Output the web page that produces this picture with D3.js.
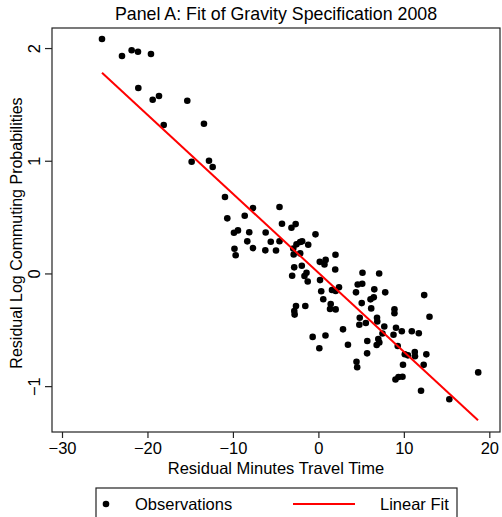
<!DOCTYPE html>
<html>
<head>
<meta charset="utf-8">
<script src="https://cdn.jsdelivr.net/npm/d3@7"></script>
<style>
  body { margin: 0; background: #fff; }
  text { font-family: "Liberation Sans", Arial, sans-serif; fill: #000; }
</style>
</head>
<body>
<svg id="chart"></svg>
<script>
// residual travel time (minutes) for each observation
const obsX = [
  -25.32, -22.98, -21.85, -21.11, -19.59, -21.07, -19.39, -18.65, -15.34, -18.10,
  -13.39, -14.83, -12.80, -12.37, -10.93, -10.66, -8.62, -7.65, -4.55, -4.26,
  -3.15, -2.66, -0.34, -9.88, -9.41, -8.09, -6.17, -8.32, -5.57, -4.55,
  -9.82, -9.68, -7.65, -6.21, -4.96, -2.56, -2.13, -1.90, -1.19, -2.94,
  -2.89, -2.13, -2.83, -1.94, 0.16, 0.85, 0.71, 2.00, 1.97, -3.07,
  -1.63, -1.39, -1.25, 0.19, 0.33, 0.57, 1.44, 1.36, 2.02, -2.62,
  -1.53, -2.82, -2.78, -0.67, 0.83, 0.11, 1.59, 2.02, 2.41, 4.60,
  5.13, 4.40, 6.54, 7.82, 12.38, 5.16, 7.11, 5.07, 6.10, 6.48,
  6.18, 8.90, 8.90, 13.00, 4.84, 5.55, 4.79, 6.86, 6.89, 7.71,
  9.08, 9.76, 10.93, 11.75, 2.88, 7.50, 8.79, 3.46, 5.72, 7.01,
  7.13, 6.82, 9.28, 5.70, 4.46, 4.54, 10.11, 10.48, 11.28, 11.30,
  12.63, 9.90, 12.32, 9.02, 9.37, 9.84, 18.70, 12.01, 15.32
]
// residual log commuting probability for each observation
const obsY = [
  2.080, 1.929, 1.980, 1.967, 1.947, 1.645, 1.541, 1.574, 1.532, 1.317,
  1.328, 0.991, 1.000, 0.944, 0.678, 0.489, 0.512, 0.580, 0.589, 0.441,
  0.405, 0.438, 0.347, 0.361, 0.382, 0.365, 0.363, 0.285, 0.281, 0.286,
  0.219, 0.161, 0.225, 0.205, 0.204, 0.258, 0.279, 0.285, 0.255, 0.221,
  0.168, 0.178, 0.054, 0.068, 0.103, 0.120, 0.079, 0.166, 0.035, -0.020,
  -0.023, 0.006, -0.072, -0.059, -0.158, -0.229, -0.272, -0.316, -0.319, -0.289,
  -0.289, -0.334, -0.365, -0.563, -0.551, -0.664, -0.147, -0.156, -0.122, -0.098,
  -0.091, -0.168, -0.141, -0.168, -0.192, 0.006, -0.001, -0.263, -0.230, -0.212,
  -0.310, -0.318, -0.353, -0.384, -0.393, -0.440, -0.455, -0.394, -0.427, -0.471,
  -0.482, -0.513, -0.513, -0.531, -0.496, -0.533, -0.544, -0.633, -0.600, -0.582,
  -0.613, -0.635, -0.644, -0.709, -0.783, -0.832, -0.717, -0.727, -0.697, -0.735,
  -0.718, -0.810, -0.811, -0.941, -0.919, -0.917, -0.878, -1.041, -1.117
]
// fitted line end points
const fitX = [-25.32, 18.68]
const fitY = [1.781, -1.303]

const xTicks = [-30, -20, -10, 0, 10, 20]
const yTicks = [-1, 0, 1, 2]

const titleText = 'Panel A: Fit of Gravity Specification 2008'
const xTitle = 'Residual Minutes Travel Time'
const yTitle = 'Residual Log Commuting Probabilities'
const legendLabels = ['Observations', 'Linear Fit']

const width = 502
const height = 517
const frame = {left: 52, top: 28, right: 500, bottom: 432}

const svg = d3.select('#chart')
    .attr('width', width)
    .attr('height', height)

const x = d3.scaleLinear().domain([-31.17, 21.25]).range([frame.left, frame.right])
const y = d3.scaleLinear().domain([2.178, -1.407]).range([frame.top, frame.bottom])

// title
svg.append('text')
    .attr('x', 276)
    .attr('y', 20)
    .attr('text-anchor', 'middle')
    .style('font-size', '17.8px')
    .text(titleText)

// box round the plot
svg.append('rect')
    .attr('x', frame.left)
    .attr('y', frame.top)
    .attr('width', frame.right - frame.left)
    .attr('height', frame.bottom - frame.top)
    .attr('fill', 'none')
    .attr('stroke', '#222')
    .attr('stroke-width', 1.2)

// x axis
const xAxis = svg.append('g')
    .attr('transform', `translate(0,${frame.bottom})`)
    .call(d3.axisBottom(x).tickValues(xTicks).tickSize(6).tickPadding(4).tickSizeOuter(0))
xAxis.select('.domain').remove()
xAxis.selectAll('line').attr('stroke', '#222').attr('stroke-width', 1.2)
xAxis.selectAll('text').style('font-size', '16.5px').attr('fill', '#000')

// y axis, labels turned like in R
const yAxis = svg.append('g')
    .attr('transform', `translate(${frame.left},0)`)
    .call(d3.axisLeft(y).tickValues(yTicks).tickSize(7).tickFormat(d3.format('d')))
yAxis.select('.domain').remove()
yAxis.selectAll('line').attr('stroke', '#222').attr('stroke-width', 1.2)
yAxis.selectAll('text')
    .style('font-size', '16.5px')
    .attr('fill', '#000')
    .attr('x', null)
    .attr('text-anchor', 'middle')
    .attr('transform', 'translate(-18,0) rotate(-90)')
    .attr('y', 0)
    .attr('dy', '0.35em')

// axis titles
svg.append('text')
    .attr('x', 276)
    .attr('y', 474)
    .attr('text-anchor', 'middle')
    .style('font-size', '16.5px')
    .text(xTitle)

svg.append('text')
    .attr('transform', `translate(22,${(frame.top + frame.bottom) / 2 + 3}) rotate(-90)`)
    .attr('text-anchor', 'middle')
    .style('font-size', '16px')
    .text(yTitle)

// points
const points = obsX.map((v, i) => ({x: v, y: obsY[i]}))
svg.append('g')
    .selectAll('circle')
    .data(points)
    .join('circle')
    .attr('cx', d => x(d.x))
    .attr('cy', d => y(d.y))
    .attr('r', 3.3)
    .attr('fill', '#000')

// fit line
const fitPts = fitX.map((v, i) => [v, fitY[i]])
svg.append('path')
    .attr('d', d3.line().x(d => x(d[0])).y(d => y(d[1]))(fitPts))
    .attr('stroke', 'red')
    .attr('stroke-width', 2)
    .attr('fill', 'none')

// legend (bottom of it is cut by the window)
const legend = svg.append('g')
legend.append('rect')
    .attr('x', 96)
    .attr('y', 488)
    .attr('width', 361)
    .attr('height', 40)
    .attr('fill', 'none')
    .attr('stroke', '#222')
    .attr('stroke-width', 1.2)
legend.append('circle')
    .attr('cx', 106)
    .attr('cy', 504)
    .attr('r', 3.3)
    .attr('fill', '#000')
legend.append('text')
    .attr('x', 135)
    .attr('y', 510)
    .style('font-size', '16.5px')
    .text(legendLabels[0])
legend.append('line')
    .attr('x1', 293)
    .attr('x2', 355)
    .attr('y1', 504)
    .attr('y2', 504)
    .attr('stroke', 'red')
    .attr('stroke-width', 2)
legend.append('text')
    .attr('x', 380)
    .attr('y', 510)
    .style('font-size', '16.5px')
    .text(legendLabels[1])
</script>
</body>
</html>
